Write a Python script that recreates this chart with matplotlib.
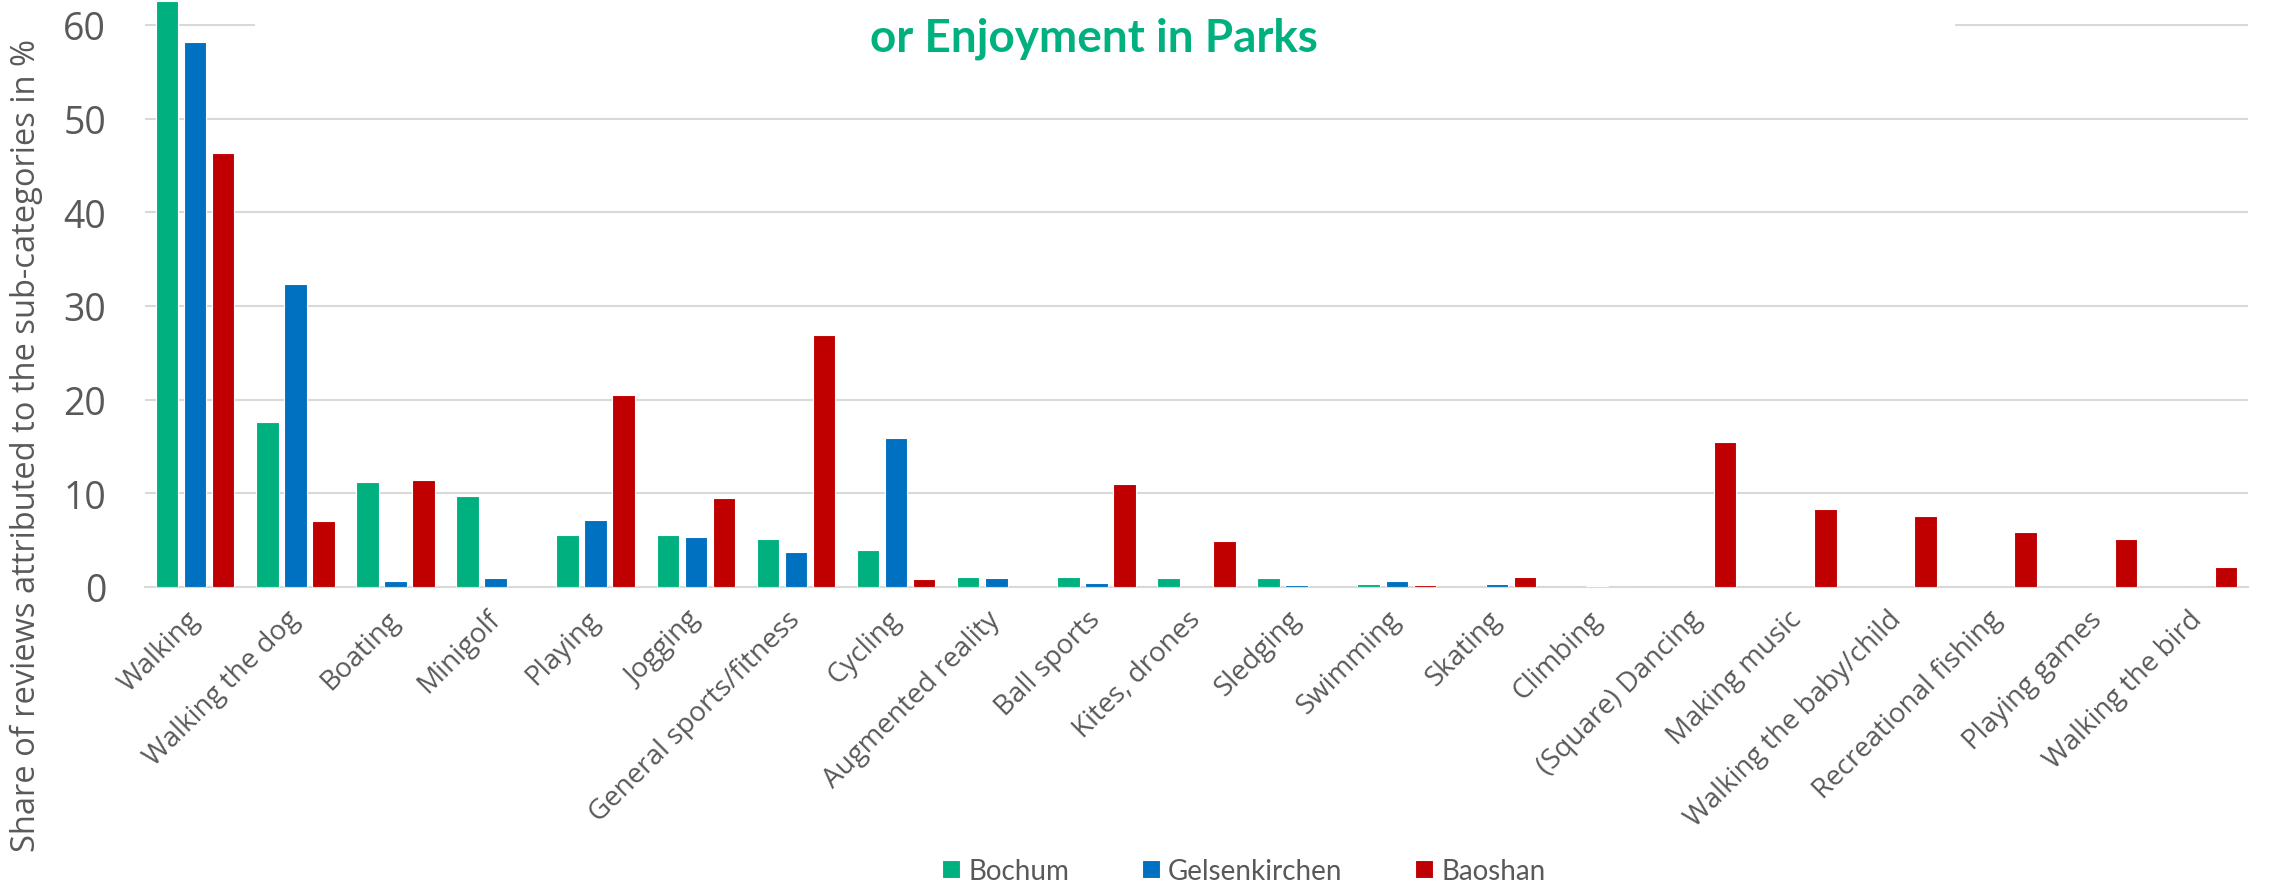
import matplotlib
matplotlib.use("Agg")
import matplotlib.pyplot as plt
import numpy as np
from matplotlib.patches import Rectangle

categories = ["Walking", "Walking the dog", "Boating", "Minigolf", "Playing", "Jogging",
              "General sports/fitness", "Cycling", "Augmented reality", "Ball sports",
              "Kites, drones", "Sledging", "Swimming", "Skating", "Climbing",
              "(Square) Dancing", "Making music", "Walking the baby/child",
              "Recreational fishing", "Playing games", "Walking the bird"]
bochum = [62.6, 17.6, 11.2, 9.7, 5.5, 5.5, 5.1, 4.0, 1.1, 1.1, 0.96, 0.96, 0.36, 0, 0,
          0, 0, 0, 0, 0, 0]
gelsenkirchen = [58.2, 32.3, 0.63, 0.93, 7.2, 5.3, 3.75, 15.9, 1.0, 0.46, 0, 0.25, 0.68, 0.36, 0.14,
                 0, 0, 0, 0.05, 0, 0]
baoshan = [46.3, 7.05, 11.4, 0, 20.5, 9.5, 26.9, 0.86, 0, 10.96, 4.96, 0, 0.25, 1.1, 0,
           15.5, 8.36, 7.57, 5.86, 5.14, 2.14]
series = ["Bochum", "Gelsenkirchen", "Baoshan"]
colors = ["#00B07E", "#0070C0", "#C00000"]

grey = "#595959"
fig = plt.figure(figsize=(22.78, 8.87), dpi=100)
ax = fig.add_axes([0.0637, 0.3371, 0.9231, 0.7392])

x = np.arange(len(categories))
for i, (vals, name, c) in enumerate(zip([bochum, gelsenkirchen, baoshan], series, colors)):
    ax.bar(x + (i - 1) * 0.28, vals, width=0.225, color=c, edgecolor="white",
           linewidth=0.8, label=name, zorder=3)

ax.set_xlim(-0.5, len(categories) - 0.5)
ax.set_ylim(0, 70)
ax.set_yticks(range(0, 70, 10))
ax.yaxis.grid(True, color="#D9D9D9", linewidth=1.5, zorder=0)
ax.set_axisbelow(True)
for s in ["top", "right", "left"]:
    ax.spines[s].set_visible(False)
ax.spines["bottom"].set_color("#D9D9D9")
ax.spines["bottom"].set_linewidth(1.5)
ax.tick_params(axis="both", length=0)
ax.tick_params(axis="y", labelsize=27, labelcolor=grey, pad=28)
ax.set_yticklabels([str(v) for v in range(0, 70, 10)], fontfamily="Open Sans")
ax.set_xticks(x)
ax.set_xticklabels(categories, rotation=45, ha="right", va="center",
                   rotation_mode="anchor", fontsize=20, color=grey, fontfamily="Open Sans")
ax.tick_params(axis="x", pad=20)

fig.text(0.0115, 0.498, "Share of reviews attributed to the sub-categories in %", rotation=90,
         ha="center", va="center", fontsize=23.5, color=grey, fontfamily="Open Sans")

# white title box over the top gridline
fig.add_artist(Rectangle((255 / 2278, 1 - 70 / 887), 1700 / 2278, 70 / 887,
                         transform=fig.transFigure, facecolor="white", edgecolor="none", zorder=1))
fig.text(0.480, 1.0125, "Sub-categories of the Category Physical Activity, Sports, Playing, Relaxation",
         ha="center", va="baseline", fontsize=32, fontweight="bold", color=colors[0],
         fontfamily="Lato", zorder=2)
fig.text(0.480, 0.9414, "or Enjoyment in Parks", ha="center", va="baseline", fontsize=33,
         fontweight="bold", color=colors[0], fontfamily="Lato", zorder=2)

fig.legend(loc="center", bbox_to_anchor=(0.546, 0.017), ncol=3, frameon=False,
           prop={"family": "Lato", "size": 20}, labelcolor=grey,
           handlelength=0.65, handleheight=0.65, handletextpad=0.3, columnspacing=2.6)

fig.savefig("out.png", dpi=100)
